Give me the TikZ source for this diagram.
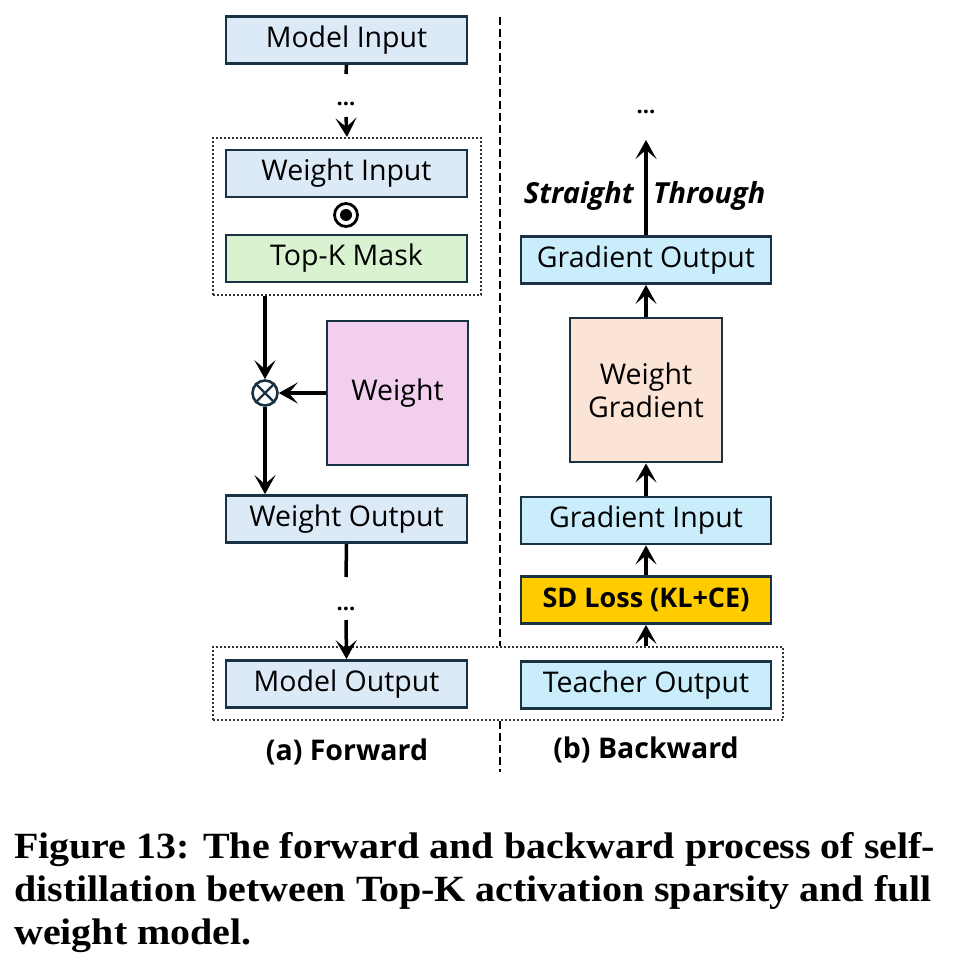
\documentclass[tikz,border=0pt]{standalone}
\usepackage{fontspec}
\usetikzlibrary{arrows.meta,calc}
\newfontfamily\boxfont{Open Sans}
\newfontfamily\capfont[FakeStretch=1.08]{Liberation Serif}
\definecolor{bord}{HTML}{1A3344}
\definecolor{inblue}{HTML}{DCE9F6}
\definecolor{gcyan}{HTML}{C9EDFB}
\definecolor{mgreen}{HTML}{D9F2D0}
\definecolor{wpink}{HTML}{F2CFEE}
\definecolor{wpeach}{HTML}{FBE3D6}
\definecolor{sdgold}{HTML}{FFCC00}
\begin{document}
\begin{tikzpicture}[x=1pt,y=-1pt,
  box/.style={draw=bord, line width=2.8pt, inner sep=0pt, minimum height=47pt, minimum width=241pt, font=\boxfont\fontsize{28.5}{34}\selectfont},
  gbox/.style={box, fill=gcyan, minimum width=250pt},
  dotbox/.style={draw=black!80, dotted, line width=2pt, inner sep=0pt},
  arr/.style={line width=3.5pt, -{Stealth[length=19pt,width=21pt,inset=9pt]}},
  ln/.style={line width=3.5pt},
  dots/.style={font=\boxfont\bfseries\fontsize{22}{26}\selectfont, inner sep=0pt, anchor=base},
  lab/.style={font=\boxfont\bfseries\fontsize{28.5}{34}\selectfont, inner sep=0pt},
  stxt/.style={font=\boxfont\bfseries\itshape\fontsize{29}{34}\selectfont, inner sep=0pt}
]
\useasboundingbox (0,0) rectangle (952,968);
% forward column
\node[box, fill=inblue] (mi) at (346.5,40) {Model Input};
\node[dots] (d1) at (346,106) {...};
\node[dotbox, minimum width=268pt, minimum height=157pt] (fb1) at (347,216.5) {};
\node[box, fill=inblue] (wi) at (346.5,173.5) {Weight Input};
\node[circle, draw=black, line width=2.8pt, minimum size=23pt, inner sep=0pt] (od) at (346,215) {};
\node[circle, fill=black, minimum size=12pt, inner sep=0pt] (odc) at (od.center) {};
\node[box, fill=mgreen] (tk) at (346.5,258.5) {Top-K Mask};
\node[circle, draw=bord, fill=white, line width=2.6pt, minimum size=25pt, inner sep=0pt] (ot) at (265,393) {};
\draw[bord, line width=2.4pt] (ot.north east) -- (ot.south west) (ot.north west) -- (ot.south east);
\node[box, fill=wpink, minimum width=141pt, minimum height=144pt] (w) at (397.5,393) {Weight};
\node[box, fill=inblue] (wo) at (346.5,519) {Weight Output};
\node[dots] (d2) at (346,610) {...};
\node[dotbox, minimum width=570pt, minimum height=73pt] (fb2) at (498,683.5) {};
\node[box, fill=inblue] (mo) at (346.5,684) {Model Output};
% backward column
\node[dots] (d3) at (646,114) {...};
\node[gbox] (go) at (646,260) {Gradient Output};
\node[box, fill=wpeach, minimum width=152pt, minimum height=144pt, align=center] (wg) at (646,390) {Weight\\[-1pt]Gradient};
\node[gbox] (gi) at (646,520.5) {Gradient Input};
\node[gbox, fill=sdgold, font=\boxfont\bfseries\fontsize{27}{32}\selectfont] (sd) at (646,600) {SD Loss (KL+CE)};
\node[gbox] (to) at (646,685) {Teacher Output};
\node[stxt, anchor=east] (st1) at (634,196) {Straight};
\node[stxt, anchor=west] (st2) at (653,196) {Through};
% labels
\node[lab] (la) at (347,752) {(a) Forward};
\node[lab] (lb) at (646,750) {(b) Backward};
% connectors forward
\coordinate (mistub) at (346,74);
\draw[ln] (mi.south) -- (mistub);
\draw[arr] ([yshift=-11pt]d1.base) -- (fb1.north);
\draw[arr] (ot |- fb1.south) -- (ot.north);
\draw[arr] (w.west) -- (ot.east);
\draw[arr] (ot.south) -- (ot |- wo.north);
\coordinate (wostub) at (346,577);
\draw[ln] (wo.south) -- (wostub);
\draw[arr] ([yshift=-10pt]d2.base) -- (mo.north);
% connectors backward
\coordinate (gotop) at (646,140);
\draw[arr] (go.north) -- (gotop);
\draw[arr] (wg.north) -- (go.south);
\draw[arr] (gi.north) -- (wg.south);
\draw[arr] (sd.north) -- (gi.south);
\draw[arr] (sd |- fb2.north) -- (sd.south);
% divider
\coordinate (dtop) at (500,17);
\coordinate (dbot) at (500,772);
\draw[line width=2.2pt, dash pattern=on 8pt off 4pt] (dtop) -- (dtop |- fb2.north);
\draw[line width=2.2pt, dash pattern=on 8pt off 4pt] (dtop |- fb2.south) -- (dbot);
% caption
\node[anchor=north west, inner sep=0pt, align=left, font=\capfont\bfseries\fontsize{37}{43}\selectfont] (cap) at (14,832) {Figure 13: The forward and backward process of self-\\distillation between Top-K activation sparsity and full\\weight model.};
\end{tikzpicture}
\end{document}
